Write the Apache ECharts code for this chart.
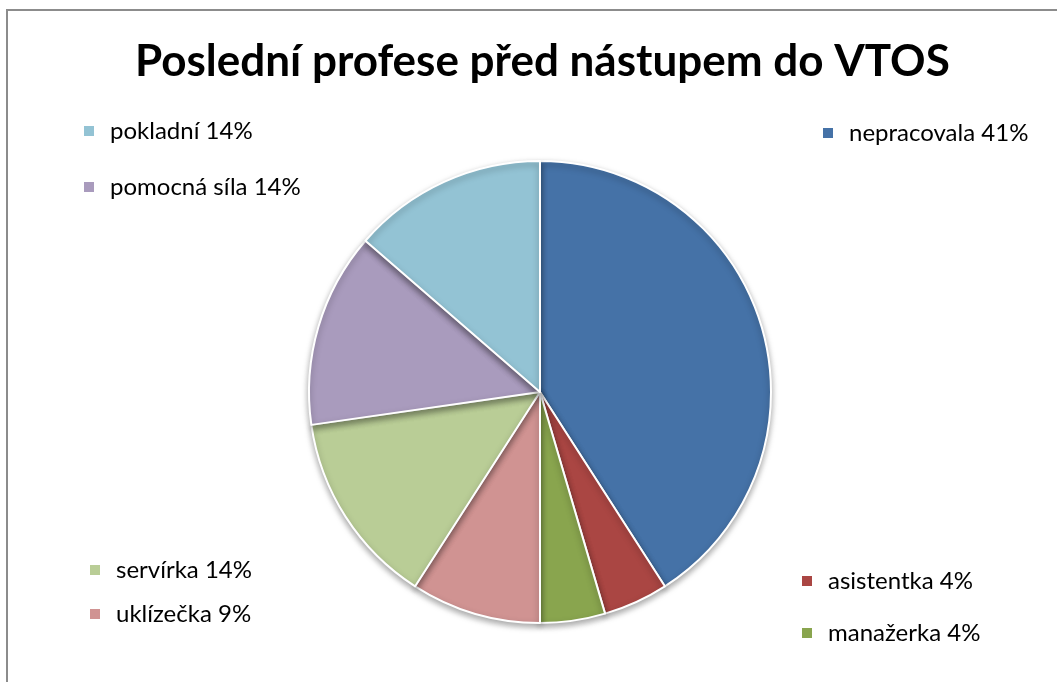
<!DOCTYPE html>
<html lang="cs">
<head>
	<meta charset="UTF-8">
	<title>Poslední profese před nástupem do VTOS</title>
	<script src="https://cdn.jsdelivr.net/npm/echarts@6/dist/echarts.min.js"></script>
	<style>
		html, body { margin: 0; padding: 0; background: #fff; }
		#pieChart { width: 1057px; height: 682px; }
	</style>
</head>
<body>
	<div id="pieChart"></div>

	<script>
	/* 데이터 */
	var categories = ['nepracovala', 'asistentka', 'manažerka', 'uklízečka', 'servírka', 'pomocná síla', 'pokladní'];
	var counts = [9, 1, 1, 2, 3, 3, 3];
	var percentLabels = ['41%', '4%', '4%', '9%', '14%', '14%', '14%'];
	var colors = ['#4572A7', '#AA4643', '#89A54E', '#D09392', '#B9CD96', '#A99BBD', '#93C3D4'];

	var names = categories.map(function (c, i) { return c + ' ' + percentLabels[i]; });
	var pieData = names.map(function (n, i) {
		return { value: counts[i], name: n, itemStyle: { color: colors[i] } };
	});

	var legendText = {
		color: '#000',
		fontFamily: 'Lato',
		fontSize: 24,
		lineHeight: 24,
		padding: [0, 0, 0, 10]
	};
	// 범례 4그룹 (원본처럼 흩어놓음)
	function makeLegend(items, left, top, gap) {
		return {
			orient: 'vertical',
			left: left,
			top: top,
			padding: 0,
			icon: 'rect',
			itemWidth: 12,
			itemHeight: 12,
			itemGap: gap,
			selectedMode: false,
			textStyle: legendText,
			data: items
		};
	}

	var pieChart = echarts.init(document.getElementById('pieChart'), null, { renderer: 'canvas' });
	var option = {
		animation: false,
		title: {
			text: 'Poslední profese před nástupem do VTOS',
			left: 130,
			top: 35,
			textStyle: {
				color: '#000',
				fontFamily: 'Lato',
				fontWeight: 'bold',
				fontSize: 44
			}
		},
		graphic: [{
			type: 'rect',
			shape: { x: 7, y: 10, width: 1100, height: 720 },
			style: { fill: 'none', stroke: '#8c8c8c', lineWidth: 2 }
		}],
		legend: [
			makeLegend([names[6], names[5]], 82, 119, 32),
			makeLegend([names[0]], 821, 121, 20),
			makeLegend([names[4], names[3]], 88, 558, 20),
			makeLegend([names[1], names[2]], 800, 569, 28)
		],
		series: [{
			type: 'pie',
			center: [540, 392],
			radius: 231,
			startAngle: 90,
			clockwise: true,
			label: { show: false },
			labelLine: { show: false },
			emphasis: { disabled: true },
			itemStyle: {
				borderColor: '#fff',
				borderWidth: 2,
				shadowColor: 'rgba(0,0,0,0.35)',
				shadowBlur: 6,
				shadowOffsetY: 3
			},
			data: pieData
		}]
	};
	pieChart.setOption(option);
	</script>
</body>
</html>
